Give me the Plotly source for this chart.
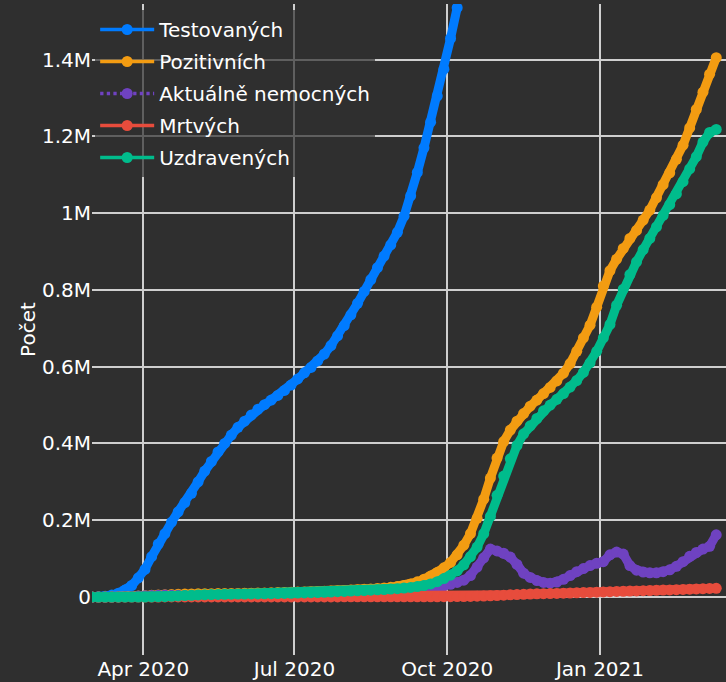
import pandas as pd
import plotly.graph_objects as go

# ---- data, one value every 4 days from 2020-03-01 ----
start_date = "2020-03-01"

tested = [0, 1000, 2000, 5000, 10000, 18000, 30000, 50000, 72000, 105000,
          138000, 165000, 195000, 222000, 246000, 270000, 300000, 328000, 353000, 378000,
          400000, 422000, 442000, 458000, 474000, 489000, 501000, 513000, 525000, 538000,
          552000, 568000, 584000, 598000, 615000, 633000, 655000, 680000, 707000, 735000,
          765000, 796000, 827000, 858000, 888000, 917000, 950000, 992000, 1045000, 1106000,
          1170000, 1237000, 1305000, 1375000, 1455000, 1535000]

positive = [0, 0, 0, 100, 300, 1000, 1700, 2600, 3600, 4600,
            5500, 6200, 6900, 7400, 7800, 8100, 8300, 8500, 8700, 8900,
            9100, 9300, 9500, 9800, 10100, 10400, 10800, 11200, 11700, 12100,
            12400, 12800, 13200, 13600, 14200, 15100, 15900, 16600, 17200, 18100,
            19000, 20000, 21100, 22200, 23600, 25200, 27500, 30000, 34200, 39500,
            46500, 54500, 64000, 76000, 90000, 110000, 135000, 165000, 205000, 255000,
            310000, 362000, 405000, 435000, 458000, 478000, 497000, 513000, 530000, 546000,
            563000, 583000, 608000, 640000, 675000, 708000, 755000, 810000, 850000, 880000,
            908000, 934000, 955000, 982000, 1008000, 1040000, 1074000, 1105000, 1140000, 1177000,
            1222000, 1270000, 1315000, 1362000, 1405000]

active = [0, 0, 0, 100, 300, 1000, 1700, 2600, 3500, 4300,
          4900, 5100, 4900, 4400, 3800, 3300, 2600, 2200, 1900, 1700,
          1600, 1600, 1600, 1700, 1800, 1900, 2000, 2100, 2200, 2300,
          2200, 2100, 2000, 1900, 2000, 2300, 2400, 2400, 2200, 2300,
          2400, 2600, 2800, 3000, 3500, 4100, 5200, 6300, 8700, 11800,
          16000, 20000, 25000, 29000, 33000, 38000, 44000, 56000, 78000, 102000,
          125000, 120000, 114000, 104000, 85000, 62000, 51000, 43000, 38000, 36000,
          39000, 46000, 56000, 66000, 74000, 82000, 88000, 92000, 110000, 117000,
          112000, 82000, 70000, 65000, 63000, 63000, 66000, 71000, 80000, 92000,
          106000, 116000, 125000, 132000, 162000]

deaths = [0, 0, 0, 0, 0, 0, 10, 20, 40, 70,
          110, 150, 190, 230, 250, 270, 290, 300, 310, 320,
          330, 330, 340, 340, 350, 350, 350, 360, 360, 360,
          370, 370, 380, 380, 390, 390, 400, 400, 410, 410,
          420, 420, 430, 430, 440, 450, 460, 480, 500, 540,
          580, 640, 700, 780, 900, 1100, 1350, 1700, 2100, 2600,
          3200, 4000, 4900, 5700, 6500, 7200, 7800, 8300, 8700, 9100,
          9500, 9900, 10400, 10900, 11500, 12000, 12600, 13300, 13900, 14500,
          15000, 15500, 16000, 16500, 17000, 17500, 18000, 18600, 19200, 19800,
          20500, 21200, 21800, 22400, 22800]

recovered = [0, 0, 0, 0, 0, 0, 0, 0, 100, 200,
             500, 1000, 1800, 2800, 3800, 4600, 5400, 6000, 6500, 6900,
             7200, 7400, 7600, 7800, 8000, 8200, 8500, 8800, 9100, 9400,
             9800, 10300, 10800, 11300, 11800, 12400, 13100, 13800, 14600, 15400,
             16200, 17000, 17800, 18700, 19600, 20600, 21800, 23200, 25000, 27200,
             30000, 34000, 40000, 48000, 57000, 68000, 84000, 105000, 130000, 165000,
             210000, 265000, 315000, 360000, 395000, 425000, 446000, 465000, 485000, 500000,
             515000, 530000, 547000, 564000, 585000, 610000, 640000, 675000, 710000, 760000,
             802000, 840000, 873000, 905000, 934000, 964000, 994000, 1022000, 1050000, 1082000,
             1115000, 1147000, 1185000, 1210000, 1218000]

series_names = ["Testovaných", "Pozitivních", "Aktuálně nemocných", "Mrtvých", "Uzdravených"]
series_values = [tested, positive, active, deaths, recovered]
series_colors = ["#007bff", "#f39c12", "#6f42c1", "#e74c3c", "#00bc8c"]
series_dash = ["solid", "solid", "dot", "solid", "solid"]

dates = pd.date_range(start_date, periods=len(positive), freq="4D")

fig = go.Figure()
for name, vals, col, dash in zip(series_names, series_values, series_colors, series_dash):
    # thick body of the dense marker chain
    fig.add_trace(go.Scatter(
        x=dates[:len(vals)], y=vals, name=name, legendgroup=name, showlegend=False,
        mode="lines", line=dict(color=col, width=9), hoverinfo="skip",
    ))
    # markers + thin line (also used for the legend entry)
    fig.add_trace(go.Scatter(
        x=dates[:len(vals)], y=vals, name=name, legendgroup=name,
        mode="lines+markers",
        line=dict(color=col, width=3.3, dash=dash),
        marker=dict(color=col, size=11),
    ))

BG = "#2f2f2f"
GRID = "#cfcfcf"
fig.update_layout(
    width=726, height=682,
    margin=dict(l=92, r=0, t=4, b=27, pad=0, autoexpand=False),
    paper_bgcolor=BG, plot_bgcolor=BG,
    font=dict(family="DejaVu Sans", size=20, color="#ffffff"),
    showlegend=True,
    legend=dict(x=0.005, y=0.9908, xanchor="left", yanchor="top",
                bgcolor="rgba(47,47,47,0.7)", itemwidth=54, tracegroupgap=3,
                font=dict(size=20)),
    xaxis=dict(type="date", range=["2020-03-01 02:40", "2021-03-17 21:00"],
               dtick="M3", tick0="2020-01-01", tickformat="%b %Y",
               showgrid=True, gridcolor=GRID, gridwidth=1.7,
               zeroline=False, showline=False, ticks="", automargin=False),
    yaxis=dict(range=[-151000, 1544700], dtick=200000, tick0=0,
               showgrid=True, gridcolor=GRID, gridwidth=1.7,
               zeroline=True, zerolinecolor=GRID, zerolinewidth=1.7,
               showline=False, ticks="", automargin=False,
               title=dict(text="Počet", font=dict(size=20), standoff=0)),
)

fig.write_html("out.html", config={"displayModeBar": False},
               post_script="document.body.style.margin='0';")
